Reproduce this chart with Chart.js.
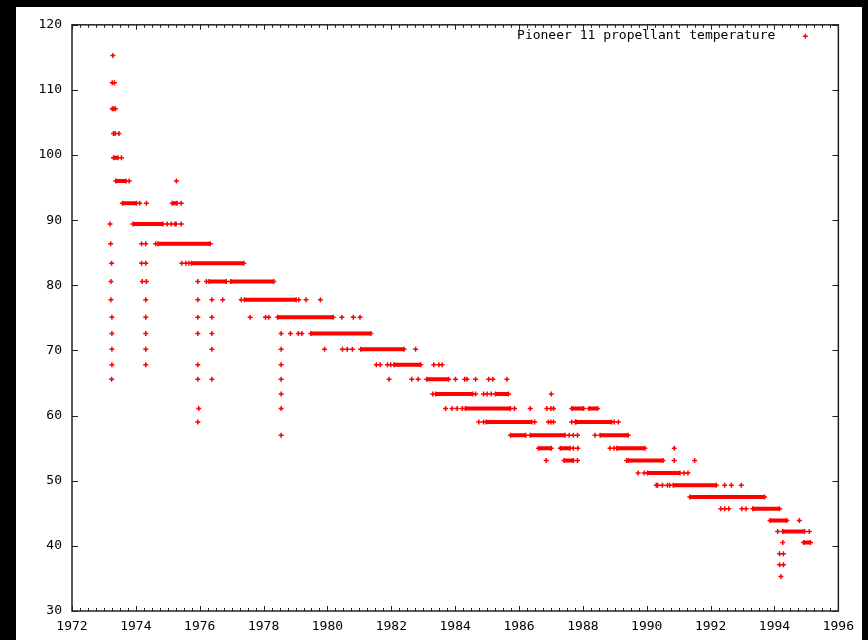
<!doctype html>
<html>

<head>
  <title>Pioneer 11 propellant temperature</title>
  <script src="https://cdn.jsdelivr.net/npm/chart.js"></script>
  <style>
    body {
      margin: 0;
      background: #000;
    }
    #canvas {
      position: absolute;
      left: 16px;
      top: 7px;
      background: #fff;
    }
  </style>
</head>

<body>
<canvas id="canvas" width="846" height="633"></canvas>
<script>
  // temperature steps the sensor reports (deg F), top to bottom
  var tempLevels = [115.3, 111.1, 107.1, 103.3, 99.6, 96.0, 92.6, 89.4, 86.4, 83.4, 80.6, 77.8, 75.1, 72.6,
    70.2, 67.8, 65.6, 63.3, 61.1, 59.0, 57.0, 55.0, 53.1, 51.2, 49.3, 47.5, 45.7, 43.9, 42.2, 40.5, 38.8, 37.1, 35.3];

  // isolated readings (year) at each level
  var singleReadings = [
    [1973.28],
    [1973.26, 1973.33],
    [1973.26, 1973.31, 1973.36],
    [1973.30, 1973.35, 1973.47],
    [1973.55],
    [1973.79, 1975.27],
    [1974.12, 1974.33, 1975.42],
    [1973.19, 1974.98, 1975.11, 1975.22, 1975.26, 1975.42],
    [1973.21, 1974.18, 1974.31, 1974.62],
    [1973.24, 1974.18, 1974.31, 1975.44, 1975.57, 1975.66],
    [1973.22, 1974.20, 1974.33, 1975.94, 1976.21],
    [1973.22, 1974.31, 1975.94, 1976.38, 1976.72, 1977.30, 1979.10, 1979.33, 1979.78],
    [1973.25, 1974.31, 1975.94, 1976.38, 1977.58, 1978.06, 1978.16, 1980.45, 1980.81, 1981.02],
    [1973.25, 1974.31, 1975.94, 1976.38, 1978.55, 1978.84, 1979.09, 1979.20],
    [1973.25, 1974.31, 1976.38, 1978.55, 1979.91, 1980.47, 1980.62, 1980.78, 1982.76],
    [1973.25, 1974.31, 1975.94, 1978.55, 1981.53, 1981.65, 1981.88, 1981.98, 1983.33, 1983.49, 1983.59],
    [1973.24, 1975.94, 1976.38, 1978.55, 1981.93, 1982.64, 1982.84, 1984.01, 1984.30, 1984.37, 1984.64,
      1985.05, 1985.18, 1985.62],
    [1978.55, 1983.30, 1984.64, 1984.89, 1985.00, 1985.13, 1987.01],
    [1975.97, 1978.55, 1983.70, 1983.90, 1984.06, 1984.22, 1985.86, 1986.35, 1986.87, 1987.00, 1987.08],
    [1975.94, 1984.74, 1984.89, 1986.49, 1986.92, 1987.00, 1987.08, 1987.65, 1987.76, 1988.98, 1989.11],
    [1978.55, 1987.57, 1987.70, 1987.83, 1988.38],
    [1987.70, 1987.84, 1988.85, 1988.98, 1990.86],
    [1986.85, 1987.83, 1989.37, 1990.86, 1991.50],
    [1989.73, 1989.92, 1991.17, 1991.29],
    [1990.30, 1990.34, 1990.49, 1990.65, 1990.72, 1992.44, 1992.65, 1992.96],
    [],
    [1992.32, 1992.44, 1992.57, 1992.98, 1993.11],
    [1994.78],
    [1994.10, 1995.09],
    [1994.26],
    [1994.16, 1994.28],
    [1994.16, 1994.28],
    [1994.20]
  ];

  // stretches of densely packed readings (from year, to year) at each level
  var steadyRuns = [
    [], [], [], [],
    [[1973.30, 1973.44]],
    [[1973.37, 1973.69]],
    [[1973.58, 1974.02], [1975.14, 1975.29]],
    [[1973.91, 1974.85]],
    [[1974.69, 1976.33]],
    [[1975.74, 1977.38]],
    [[1976.29, 1976.83], [1976.97, 1978.32]],
    [[1977.40, 1979.02]],
    [[1978.44, 1980.18]],
    [[1979.48, 1981.36]],
    [[1981.04, 1982.40]],
    [[1982.08, 1982.92]],
    [[1983.11, 1983.80]],
    [[1983.39, 1984.55], [1985.26, 1985.67]],
    [[1984.32, 1985.73], [1987.65, 1988.02], [1988.19, 1988.46]],
    [[1984.97, 1986.40], [1987.79, 1988.90]],
    [[1985.73, 1986.21], [1986.35, 1987.44], [1988.54, 1989.42]],
    [[1986.61, 1987.01], [1987.29, 1987.60], [1989.06, 1989.94]],
    [[1987.41, 1987.70], [1989.42, 1990.51]],
    [[1990.02, 1991.04]],
    [[1990.83, 1992.18]],
    [[1991.35, 1993.69]],
    [[1993.32, 1994.16]],
    [[1993.86, 1994.39]],
    [[1994.26, 1994.94]],
    [[1994.91, 1995.13]],
    [], [], []
  ];

  var yearTicks = [1972, 1974, 1976, 1978, 1980, 1982, 1984, 1986, 1988, 1990, 1992, 1994, 1996];
  var tempTicks = [30, 40, 50, 60, 70, 80, 90, 100, 110, 120];

  var RED = '#ff0000';
  var tickFont = {family: 'DejaVu Sans Mono', size: 13};

  var readings = [];
  tempLevels.forEach(function (t, i) {
    singleReadings[i].forEach(function (yr) {
      readings.push({x: yr, y: t});
    });
  });

  // each run is a short thick line; a null point breaks the line between runs
  var runPoints = [];
  tempLevels.forEach(function (t, i) {
    steadyRuns[i].forEach(function (r) {
      runPoints.push({x: r[0], y: t}, {x: r[1], y: t}, {x: r[1], y: null});
    });
  });

  // gnuplot style frame: box, inward ticks on all four sides, key at top right
  var gnuFrame = {
    id: 'gnuFrame',
    beforeDatasetsDraw: function (chart) {
      var ctx = chart.ctx, a = chart.chartArea;
      var xs = chart.scales.x, ys = chart.scales.y;
      ctx.save();
      ctx.strokeStyle = '#222';
      ctx.lineWidth = 1.5;
      ctx.strokeRect(a.left, a.top, a.right - a.left, a.bottom - a.top);
      ctx.lineWidth = 1;
      ctx.beginPath();
      for (var v = yearTicks[0]; v <= yearTicks[yearTicks.length - 1] + 1e-6; v += 0.25) {
        var len = yearTicks.indexOf(Math.round(v * 100) / 100) >= 0 ? 5 : 3;
        var px = Math.round(xs.getPixelForValue(v)) + 0.5;
        ctx.moveTo(px, a.bottom);
        ctx.lineTo(px, a.bottom - len);
        ctx.moveTo(px, a.top);
        ctx.lineTo(px, a.top + len);
      }
      tempTicks.forEach(function (t) {
        var py = Math.round(ys.getPixelForValue(t)) + 0.5;
        ctx.moveTo(a.left, py);
        ctx.lineTo(a.left + 6, py);
        ctx.moveTo(a.right, py);
        ctx.lineTo(a.right - 6, py);
      });
      ctx.stroke();
      ctx.restore();
    },
    afterDraw: function (chart) {
      var ctx = chart.ctx, a = chart.chartArea;
      ctx.save();
      ctx.font = '13px "DejaVu Sans Mono"';
      ctx.fillStyle = '#000';
      ctx.textAlign = 'right';
      ctx.textBaseline = 'alphabetic';
      ctx.fillText(chart.data.datasets[0].label, a.right - 63, a.top + 14.5);
      var mx = a.right - 33, my = a.top + 11.5;
      ctx.strokeStyle = RED;
      ctx.lineWidth = 1.5;
      ctx.beginPath();
      ctx.moveTo(mx - 2.5, my);
      ctx.lineTo(mx + 2.5, my);
      ctx.moveTo(mx, my - 2.5);
      ctx.lineTo(mx, my + 2.5);
      ctx.stroke();
      ctx.restore();
    }
  };

  window.onload = function () {
    var ctx = document.getElementById('canvas').getContext('2d');
    window.myScatter = new Chart(ctx, {
      type: 'scatter',
      data: {
        datasets: [{
          label: 'Pioneer 11 propellant temperature',
          data: readings,
          pointStyle: 'cross',
          pointRadius: 2.5,
          pointHoverRadius: 2.5,
          pointBorderWidth: 1.5,
          borderColor: RED,
          backgroundColor: RED
        }, {
          label: 'runs',
          data: runPoints,
          showLine: true,
          spanGaps: false,
          borderWidth: 4,
          borderColor: RED,
          backgroundColor: RED,
          pointStyle: 'cross',
          pointRadius: 2.5,
          pointHoverRadius: 2.5,
          pointBorderWidth: 1.5
        }]
      },
      options: {
        responsive: false,
        animation: false,
        layout: {
          padding: {top: 16, right: 21, left: 0, bottom: 0}
        },
        plugins: {
          legend: {display: false},
          tooltip: {enabled: false}
        },
        scales: {
          x: {
            type: 'linear',
            min: 1972,
            max: 1996,
            grid: {display: false, drawTicks: false},
            border: {display: false},
            ticks: {
              stepSize: 2,
              padding: 8,
              color: '#000',
              font: tickFont,
              maxRotation: 0,
              callback: function (v) { return String(v); }
            },
            afterFit: function (scale) { scale.height = 29; }
          },
          y: {
            min: 30,
            max: 120,
            grid: {display: false, drawTicks: false},
            border: {display: false},
            ticks: {
              stepSize: 10,
              padding: 10,
              color: '#000',
              font: tickFont
            },
            afterFit: function (scale) { scale.width = 56; }
          }
        }
      },
      plugins: [gnuFrame]
    });
  };
</script>
</body>

</html>
